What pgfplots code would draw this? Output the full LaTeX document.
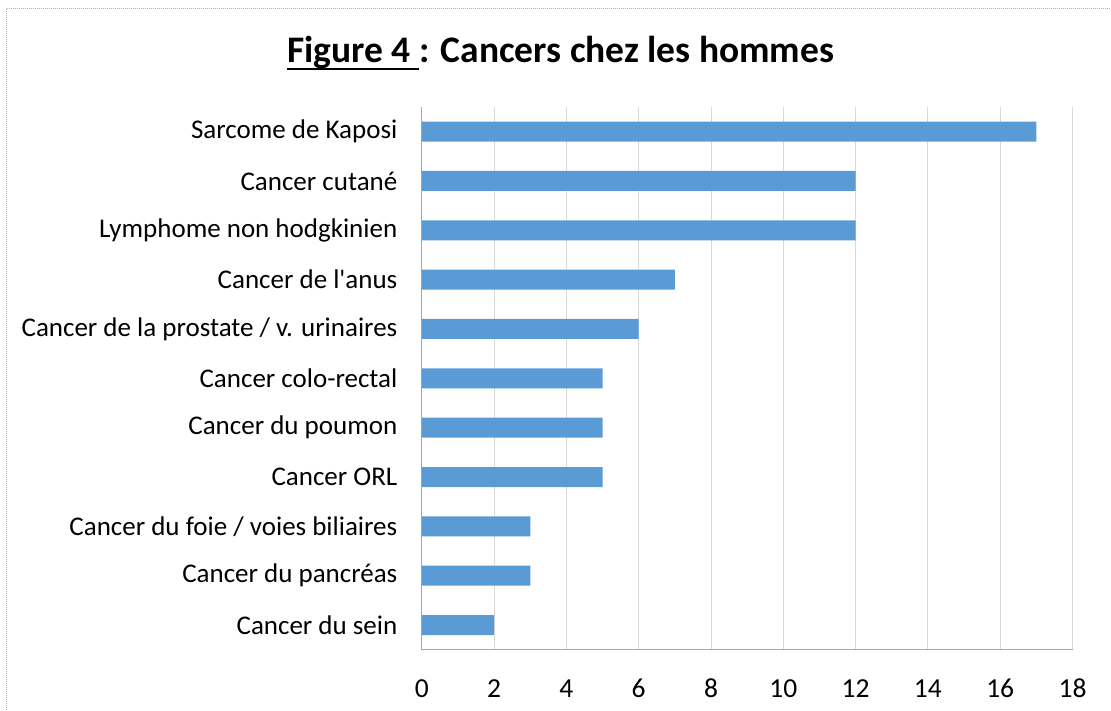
\documentclass[border=0pt]{standalone}
\usepackage{pgfplots}
\pgfplotsset{compat=1.18}
\usepackage{fontspec}
\setmainfont{Carlito}
\definecolor{barblue}{HTML}{5B9BD5}
\definecolor{gridgray}{HTML}{D9D9D9}
\definecolor{axgray}{HTML}{A6A6A6}
\newsavebox\figbox
\begin{document}
\begin{tikzpicture}[x=1pt,y=1pt]
\path (0,0) rectangle (1111,710);
\draw[gray!60, densely dotted, line width=1pt] (6.5,0) -- (6.5,701.5) -- (1111,701.5);
\node[font=\fontsize{37.5}{44}\selectfont\bfseries, anchor=base] at (561,647) {\sbox\figbox{Figure 4 }\usebox\figbox\llap{\rule[-7.5pt]{\wd\figbox}{2.6pt}}: Cancers chez les hommes};
\begin{axis}[
  at={(422pt,60pt)}, anchor=south west,
  scale only axis, width=651pt, height=543pt,
  xbar, bar width=20pt,
  xmin=0, xmax=18, xtick={0,2,...,18},
  ymin=-0.5, ymax=10.5,
  ytick={0,...,10},
  yticklabels={Cancer du sein, Cancer du pancréas, Cancer du foie / voies biliaires, Cancer ORL, Cancer du poumon, Cancer colo-rectal, Cancer de la prostate / v. urinaires, Cancer de l\textquotesingle anus, Lymphome non hodgkinien, Cancer cutané, Sarcome de Kaposi},
  major tick length=0,
  xmajorgrids, grid style={gridgray, line width=1pt},
  axis x line*=bottom, axis y line*=left,
  axis line style={axgray, line width=1pt, -},
  tick label style={font=\fontsize{27}{30}\selectfont},
  xticklabel style={font=\fontsize{27.5}{30}\selectfont, yshift=-37pt, text height=0.7em, text depth=0pt},
  yticklabel style={xshift=-21pt},
  /pgf/number format/assume math mode=true,
]
\addplot[fill=barblue, draw=none] coordinates {
(2,0) (3,1) (3,2) (5,3) (5,4) (5,5) (6,6) (7,7) (12,8) (12,9) (17,10)};
\end{axis}
\end{tikzpicture}
\end{document}
